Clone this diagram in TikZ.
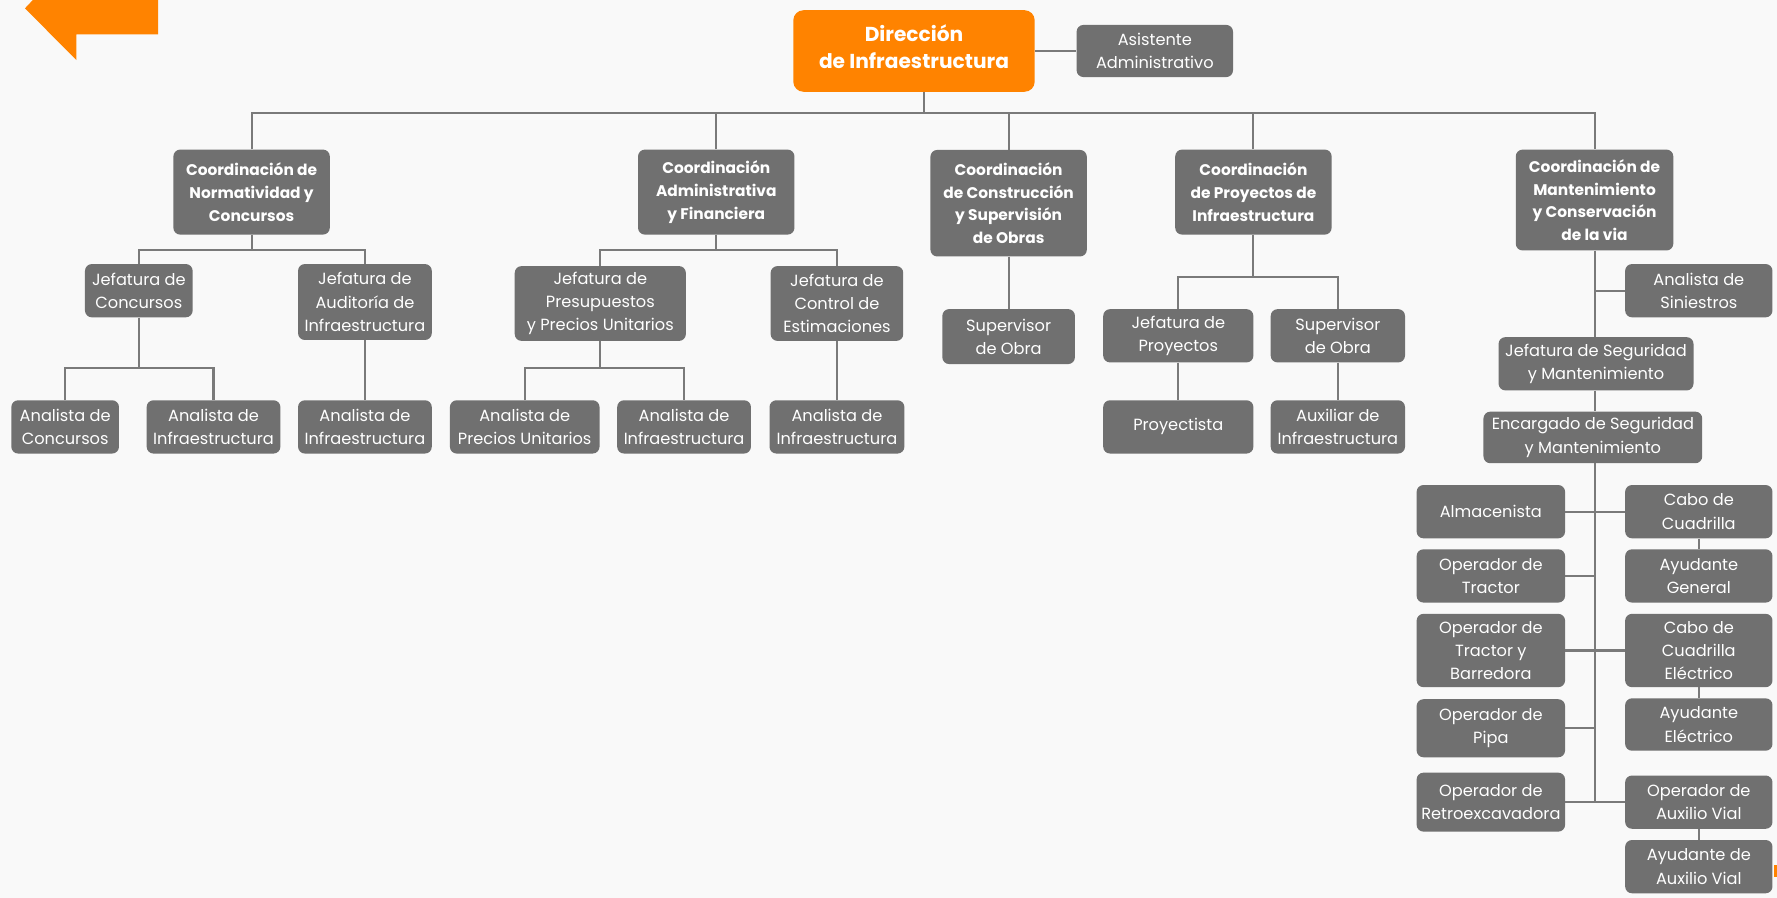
\documentclass[tikz,border=0pt]{standalone}
\usepackage{fontspec}
\setmainfont{Poppins}
\definecolor{boxgray}{HTML}{707070}
\definecolor{linegray}{HTML}{7A7A7A}
\definecolor{bggray}{HTML}{F9F9F9}
\definecolor{orgmain}{HTML}{FF8300}
\tikzset{
  bx/.style={fill=boxgray, text=white, rounded corners=6pt, inner sep=0pt, align=center,
    font=\fontsize{14.3}{20.5}\selectfont},
  bxb/.style={bx, font=\fontsize{13.6}{20}\selectfont\bfseries},
  ln/.style={draw=linegray, line width=1.8pt},
}
\begin{document}
\begin{tikzpicture}[x=1pt,y=-1pt]
\fill[bggray] (0,0) rectangle (1568,792);
\useasboundingbox (0,0) rectangle (1568,792);
% decorative orange tab
\fill[orgmain] (22,7.4) -- (29,0) -- (139.5,0) -- (139.5,30.3) -- (67.5,30.3) -- (67.5,53) -- cycle;
\fill[orgmain] (1565.5,763) rectangle (1568,774);

% top
\node[bx, fill=orgmain, rounded corners=9pt, minimum width=213pt, minimum height=72pt,
  label={[text=white, align=center, yshift=4pt, font=\fontsize{17.8}{24}\selectfont\bfseries]center:Dirección\\de Infraestructura}] (dir) at (806.5,45) {};
\node[bx, minimum width=138pt, minimum height=46pt] (asis) at (1019,45) {Asistente\\Administrativo};

% coordinations
\node[bxb, minimum width=138pt, minimum height=75pt] (c1) at (222,169.5) {Coordinación de\\Normatividad y\\Concursos};
\node[bxb, minimum width=138pt, minimum height=75pt] (c2) at (632,169.5) {Coordinación\\Administrativa\\y Financiera};
\node[bxb, minimum width=138pt, minimum height=94pt] (c3) at (890,179.3) {Coordinación\\de Construcción\\y Supervisión\\de Obras};
\node[bxb, minimum width=138pt, minimum height=75pt] (c4) at (1106,169.5) {Coordinación\\de Proyectos de\\Infraestructura};
\node[bxb, minimum width=139pt, minimum height=89pt] (c5) at (1407,176.5) {Coordinación de\\Mantenimiento\\y Conservación\\de la via};

% group 1
\node[bx, minimum width=95pt, minimum height=47pt] (j1) at (122.5,256.5) {Jefatura de\\Concursos};
\node[bx, minimum width=118pt, minimum height=67pt] (j2) at (322,266.5) {Jefatura de\\Auditoría de\\Infraestructura};
\node[bx, minimum width=95pt, minimum height=47pt] (a1) at (57.5,376.7) {Analista de\\Concursos};
\node[bx, minimum width=118pt, minimum height=47pt] (a2) at (188.4,376.7) {Analista de\\Infraestructura};
\node[bx, minimum width=118pt, minimum height=47pt] (a3) at (322,376.7) {Analista de\\Infraestructura};

% group 2
\node[bx, minimum width=151pt, minimum height=66pt] (j3) at (529.7,267.8) {Jefatura de\\Presupuestos\\y Precios Unitarios};
\node[bx, minimum width=117pt, minimum height=66pt] (j4) at (738.5,267.8) {Jefatura de\\Control de\\Estimaciones};
\node[bx, minimum width=132pt, minimum height=47pt] (a4) at (463,376.7) {Analista de\\Precios Unitarios};
\node[bx, minimum width=118pt, minimum height=47pt] (a5) at (603.6,376.7) {Analista de\\Infraestructura};
\node[bx, minimum width=119pt, minimum height=47pt] (a6) at (738.5,376.7) {Analista de\\Infraestructura};

% group 3
\node[bx, minimum width=117pt, minimum height=48.5pt] (s1) at (890,297) {Supervisor\\de Obra};

% group 4
\node[bx, minimum width=132.5pt, minimum height=47pt] (jp) at (1039.7,296.3) {Jefatura de\\Proyectos};
\node[bx, minimum width=118.5pt, minimum height=47pt] (s2) at (1180.5,296.3) {Supervisor\\de Obra};
\node[bx, minimum width=132.5pt, minimum height=47pt] (pr) at (1039.7,376.7) {Proyectista};
\node[bx, minimum width=118.5pt, minimum height=47pt] (ax) at (1180.5,376.7) {Auxiliar de\\Infraestructura};

% group 5
\node[bx, minimum width=130pt, minimum height=47pt] (sin) at (1499,256.5) {Analista de\\Siniestros};
\node[bx, minimum width=172pt, minimum height=47pt] (jsm) at (1408.3,321) {Jefatura de Seguridad\\y Mantenimiento};
\node[bx, minimum width=193pt, minimum height=45.5pt] (enc) at (1405.5,386) {Encargado de Seguridad\\y Mantenimiento};

\node[bx, minimum width=131pt, minimum height=47pt] (alm) at (1315.5,451.5) {Almacenista};
\node[bx, minimum width=131pt, minimum height=47pt] (opT) at (1315.5,508.2) {Operador de\\Tractor};
\node[bx, minimum width=131pt, minimum height=64.7pt] (opTB) at (1315.5,574) {Operador de\\Tractor y\\Barredora};
\node[bx, minimum width=131pt, minimum height=51.2pt] (opP) at (1315.5,642.6) {Operador de\\Pipa};
\node[bx, minimum width=131pt, minimum height=52pt] (opR) at (1315.5,707.8) {Operador de\\Retroexcavadora};

\node[bx, minimum width=130pt, minimum height=47pt] (cabo) at (1499,451.5) {Cabo de\\Cuadrilla};
\node[bx, minimum width=130pt, minimum height=47pt] (ayG) at (1499,508.2) {Ayudante\\General};
\node[bx, minimum width=130pt, minimum height=64.7pt] (caboE) at (1499,574) {Cabo de\\Cuadrilla\\Eléctrico};
\node[bx, minimum width=130pt, minimum height=46.2pt] (ayE) at (1499,639.3) {Ayudante\\Eléctrico};
\node[bx, minimum width=130pt, minimum height=47pt] (opAV) at (1499,707.8) {Operador de\\Auxilio Vial};
\node[bx, minimum width=130pt, minimum height=47pt] (ayAV) at (1499,764.7) {Ayudante de\\Auxilio Vial};

% ---------- connectors ----------
\coordinate (b0) at (815,99.5);
\draw[ln] (b0 |- dir.south) -- (b0);
\draw[ln] (dir.east) -- (asis.west);
\draw[ln] (c1.north) -- (c1.north |- b0) -- (c5.north |- b0) -- (c5.north);
\foreach \c in {c2,c3,c4} { \draw[ln] (\c.north) -- (\c.north |- b0); }

% group 1
\coordinate (b1) at (0,220.6);
\draw[ln] (c1.south) -- (c1.south |- b1);
\draw[ln] (j1.north) -- (j1.north |- b1) -- (j2.north |- b1) -- (j2.north);
\coordinate (b2) at (0,325);
\draw[ln] (j1.south) -- (j1.south |- b2);
\draw[ln] (a1.north) -- (a1.north |- b2) -- (a2.north |- b2) -- (a2.north);
\draw[ln] (j2.south) -- (a3.north);

% group 2
\draw[ln] (c2.south) -- (c2.south |- b1);
\draw[ln] (j3.north) -- (j3.north |- b1) -- (j4.north |- b1) -- (j4.north);
\draw[ln] (j3.south) -- (j3.south |- b2);
\draw[ln] (a4.north) -- (a4.north |- b2) -- (a5.north |- b2) -- (a5.north);
\draw[ln] (j4.south) -- (a6.north);

% group 3
\draw[ln] (c3.south) -- (s1.north);

% group 4
\coordinate (b4) at (0,244.7);
\draw[ln] (c4.south) -- (c4.south |- b4);
\draw[ln] (jp.north) -- (jp.north |- b4) -- (s2.north |- b4) -- (s2.north);
\draw[ln] (jp.south) -- (pr.north);
\draw[ln] (s2.south) -- (ax.north);

% group 5
\draw[ln] (c5.south) -- (c5.south |- jsm.north);
\draw[ln] (sin.west) -- (sin.west -| c5.south);
\draw[ln] (jsm.south -| c5.south) -- (c5.south |- enc.north);
\draw[ln] (c5.south |- enc.south) -- (c5.south |- opR.east);
\draw[ln] (alm.east) -- (cabo.west);
\draw[ln] (opT.east) -- (opT.east -| c5.south);
\draw[ln] (opTB.east) -- (caboE.west);
\draw[ln] (opP.east) -- (opP.east -| c5.south);
\draw[ln] (opR.east) -- (opAV.west);
\draw[ln] (cabo.south) -- (ayG.north);
\draw[ln] (caboE.south) -- (ayE.north);
\draw[ln] (opAV.south) -- (ayAV.north);
\end{tikzpicture}
\end{document}
